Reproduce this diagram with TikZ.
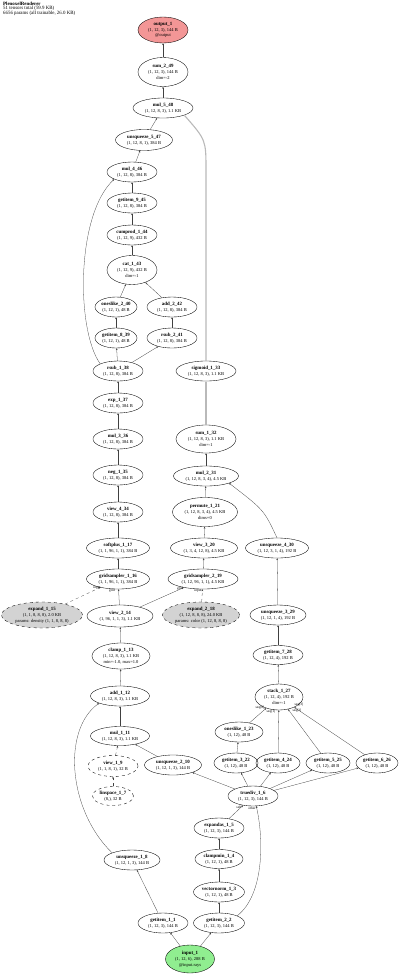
\documentclass[tikz,border=0pt]{standalone}
\usepackage{fontspec}
\setmainfont{Liberation Serif}
\usetikzlibrary{shapes.geometric,arrows.meta}
\definecolor{outred}{HTML}{F39696}
\definecolor{ingreen}{HTML}{90EE90}
\definecolor{pargray}{HTML}{D3D3D3}
\newcommand{\op}[2]{{\fontsize{4.9}{5.8}\selectfont\bfseries #1}\\#2}

\begin{document}
\begin{tikzpicture}[x=1pt,y=-1pt,
	opn/.style={ellipse,draw,line width=0.35pt,inner sep=0pt,align=center,
		font=\fontsize{4.5}{5.8}\selectfont,minimum height=20pt},
	dashn/.style={opn,dashed},
	parn/.style={opn,dashed,fill=pargray},
	ed/.style={-{Stealth[length=2pt,width=1.7pt]},line width=0.28pt,draw=black!75},
	ded/.style={ed,dashed},
	bed/.style={ed,draw=gray!55,line width=1.1pt},
	lab/.style={font=\fontsize{3.5}{4}\selectfont,inner sep=0pt}]
	\useasboundingbox (0,0) rectangle (400,975);
	\node[anchor=north west,align=left,inner sep=0pt,font=\fontsize{4.9}{4.3}\selectfont] (title) at (3,1.5)
		{\textbf{PlenoxelRenderer}\\51 tensors total (59.9 KB)\\6656 params (all trainable, 26.0 KB)};
	% top chain
	\node[opn,fill=outred,minimum width=50pt,minimum height=26pt] (output1) at (163,30) {\op{output\_1}{(1, 12, 3), 144 B\\@output}};
	\node[opn,minimum width=50pt,minimum height=29pt] (sum249) at (163,72) {\op{sum\_2\_49}{(1, 12, 3), 144 B\\dim=-2}};
	\node[opn,minimum width=60pt] (mul548) at (163,108) {\op{mul\_5\_48}{(1, 12, 8, 3), 1.1 KB}};
	\node[opn,minimum width=57pt,minimum height=21pt] (unsq547) at (144,140) {\op{unsqueeze\_5\_47}{(1, 12, 8, 1), 384 B}};
	\node[opn,minimum width=50pt] (mul446) at (132,172) {\op{mul\_4\_46}{(1, 12, 8), 384 B}};
	\node[opn,minimum width=50pt] (get945) at (132,203) {\op{getitem\_9\_45}{(1, 12, 8), 384 B}};
	\node[opn,minimum width=50pt] (cump144) at (132,235) {\op{cumprod\_1\_44}{(1, 12, 9), 432 B}};
	\node[opn,minimum width=50pt,minimum height=29pt] (cat143) at (132,270) {\op{cat\_1\_43}{(1, 12, 9), 432 B\\dim=-1}};
	\node[opn,minimum width=42pt] (ones240) at (116,307) {\op{oneslike\_2\_40}{(1, 12, 1), 48 B}};
	\node[opn,minimum width=50pt] (add242) at (172,307) {\op{add\_2\_42}{(1, 12, 8), 384 B}};
	\node[opn,minimum width=42pt] (get839) at (116,338) {\op{getitem\_8\_39}{(1, 12, 1), 48 B}};
	\node[opn,minimum width=50pt] (rsub241) at (172,338) {\op{rsub\_2\_41}{(1, 12, 8), 384 B}};
	\node[opn,minimum width=50pt] (rsub138) at (118,371) {\op{rsub\_1\_38}{(1, 12, 8), 384 B}};
	\node[opn,minimum width=60pt] (sig133) at (206,371) {\op{sigmoid\_1\_33}{(1, 12, 8, 3), 1.1 KB}};
	% density branch
	\node[opn,minimum width=50pt] (exp137) at (118,403) {\op{exp\_1\_37}{(1, 12, 8), 384 B}};
	\node[opn,minimum width=50pt] (mul336) at (118,439) {\op{mul\_3\_36}{(1, 12, 8), 384 B}};
	\node[opn,minimum width=50pt] (neg135) at (118,475) {\op{neg\_1\_35}{(1, 12, 8), 384 B}};
	\node[opn,minimum width=50pt] (view434) at (118,512) {\op{view\_4\_34}{(1, 12, 8), 384 B}};
	\node[opn,minimum width=63pt] (soft117) at (118,548) {\op{softplus\_1\_17}{(1, 1, 96, 1, 1), 384 B}};
	% color branch
	\node[opn,minimum width=60pt,minimum height=28pt] (sum132) at (206,439) {\op{sum\_1\_32}{(1, 12, 8, 3), 1.1 KB\\dim=-1}};
	\node[opn,minimum width=65pt] (mul231) at (206,476) {\op{mul\_2\_31}{(1, 12, 8, 3, 4), 4.5 KB}};
	\node[opn,minimum width=65pt,minimum height=29pt] (perm121) at (205,512) {\op{permute\_1\_21}{(1, 12, 8, 3, 4), 4.5 KB\\dims=0}};
	\node[opn,minimum width=67pt] (view320) at (204,548) {\op{view\_3\_20}{(1, 3, 4, 12, 8), 4.5 KB}};
	\node[opn,minimum width=63pt] (unsq430) at (277,548) {\op{unsqueeze\_4\_30}{(1, 12, 3, 1, 4), 192 B}};
	\node[opn,minimum width=63pt] (grid116) at (118,579) {\op{gridsampler\_1\_16}{(1, 1, 96, 1, 1), 384 B}};
	\node[opn,minimum width=70pt] (grid219) at (203,579) {\op{gridsampler\_2\_19}{(1, 12, 96, 1, 1), 4.5 KB}};
	\node[opn,minimum width=56pt] (unsq329) at (278,615) {\op{unsqueeze\_3\_29}{(1, 12, 1, 4), 192 B}};
	\node[opn,minimum width=50pt,minimum height=19pt] (get728) at (278,655) {\op{getitem\_7\_28}{(1, 12, 4), 192 B}};
	\node[parn,minimum width=81pt,minimum height=26pt] (exp115) at (42,615) {\op{expand\_1\_15}{(1, 1, 8, 8, 8), 2.0 KB\\params: density (1, 1, 8, 8, 8)}};
	\node[opn,minimum width=66pt,minimum height=22pt] (view214) at (120,616) {\op{view\_2\_14}{(1, 96, 1, 1, 3), 1.1 KB}};
	\node[parn,minimum width=77pt,minimum height=26pt] (exp218) at (201,615) {\op{expand\_2\_18}{(1, 12, 8, 8, 8), 24.0 KB\\params: color (1, 12, 8, 8, 8)}};
	% sample points
	\node[opn,minimum width=58pt,minimum height=26pt] (clamp113) at (121,656) {\op{clamp\_1\_13}{(1, 12, 8, 3), 1.1 KB\\min=-1.0, max=1.0}};
	\node[opn,minimum width=59pt] (add112) at (120,696) {\op{add\_1\_12}{(1, 12, 8, 3), 1.1 KB}};
	\node[opn,minimum width=59pt,minimum height=19pt] (mul111) at (120,736) {\op{mul\_1\_11}{(1, 12, 8, 3), 1.1 KB}};
	\node[dashn,minimum width=50pt,minimum height=21pt] (view19) at (113,766) {\op{view\_1\_9}{(1, 1, 8, 1), 32 B}};
	\node[dashn,minimum width=41pt,minimum height=19pt] (lin17) at (113,796) {\op{linspace\_1\_7}{(8,), 32 B}};
	\node[opn,minimum width=57pt] (unsq210) at (173,765) {\op{unsqueeze\_2\_10}{(1, 12, 1, 3), 144 B}};
	% directions
	\node[opn,minimum width=48pt,minimum height=26pt] (stack127) at (279,697) {\op{stack\_1\_27}{(1, 12, 4), 192 B\\dim=-1}};
	\node[opn,minimum width=48pt] (ones123) at (239,732) {\op{oneslike\_1\_23}{(1, 12), 48 B}};
	\node[opn,minimum width=44pt] (get322) at (236,763) {\op{getitem\_3\_22}{(1, 12), 48 B}};
	\node[opn,minimum width=44pt] (get424) at (278,763) {\op{getitem\_4\_24}{(1, 12), 48 B}};
	\node[opn,minimum width=44pt] (get525) at (328,763) {\op{getitem\_5\_25}{(1, 12), 48 B}};
	\node[opn,minimum width=42pt] (get626) at (377,763) {\op{getitem\_6\_26}{(1, 12), 48 B}};
	\node[opn,minimum width=50pt] (trdiv16) at (253,796) {\op{truediv\_1\_6}{(1, 12, 3), 144 B}};
	\node[opn,minimum width=50pt] (expas15) at (219,828) {\op{expandas\_1\_5}{(1, 12, 3), 144 B}};
	\node[opn,minimum width=48pt,minimum height=19pt] (clmin14) at (219,859) {\op{clampmin\_1\_4}{(1, 12, 1), 48 B}};
	\node[opn,minimum width=56pt] (unsq18) at (132,860) {\op{unsqueeze\_1\_8}{(1, 12, 1, 3), 144 B}};
	\node[opn,minimum width=51pt] (vnorm13) at (219,892) {\op{vectornorm\_1\_3}{(1, 12, 1), 48 B}};
	\node[opn,minimum width=50pt] (get11) at (163,923) {\op{getitem\_1\_1}{(1, 12, 3), 144 B}};
	\node[opn,minimum width=51pt] (get22) at (219,923) {\op{getitem\_2\_2}{(1, 12, 3), 144 B}};
	\node[opn,fill=ingreen,minimum width=49pt,minimum height=28pt] (input1) at (190,959) {\op{input\_1}{(1, 12, 6), 288 B\\@input.rays}};
	% edges
	\draw[ed] (sum249) -- (output1);
	\draw[ed] (mul548) -- (sum249);
	\draw[ed] (unsq547) -- (mul548);
	\draw[bed] (sig133.north) -- ++(0,-190) .. controls (206,140) .. (mul548.south east);
	\draw[ed] (mul446) -- (unsq547);
	\draw[ed] (get945) -- (mul446);
	\draw[ed] (rsub138.north west) .. controls (76,330) and (76,215) .. (mul446.south west);
	\draw[ed] (cump144) -- (get945);
	\draw[ed] (cat143) -- (cump144);
	\draw[ed] (ones240) -- (cat143);
	\draw[ed] (add242) -- (cat143);
	\draw[ed] (get839) -- (ones240);
	\draw[ed] (rsub241) -- (add242);
	\draw[ed] (rsub138) -- (get839);
	\draw[ed] (rsub138) -- (rsub241);
	\draw[ed] (exp137) -- (rsub138);
	\draw[ed] (mul336) -- (exp137);
	\draw[ed] (neg135) -- (mul336);
	\draw[ed] (view434) -- (neg135);
	\draw[ed] (soft117) -- (view434);
	\draw[ed] (grid116) -- (soft117);
	\draw[bed] (sum132) -- (sig133);
	\draw[ed] (mul231) -- (sum132);
	\draw[ed] (perm121) -- (mul231);
	\draw[ed] (unsq430.north) .. controls (264,510) .. (mul231.south east);
	\draw[ed] (view320) -- (perm121);
	\draw[ed] (grid219) -- (view320);
	\draw[ed] (unsq329) -- (unsq430);
	\draw[ed] (get728) -- (unsq329);
	\draw[ed] (stack127) -- (get728);
	\draw[ded] (exp115) -- (grid116);
	\draw[ed] (view214) -- (grid116);
	\draw[ed] (view214) -- (grid219);
	\draw[ded] (exp218) -- (grid219);
	\draw[ed] (clamp113) -- (view214);
	\draw[ed] (add112) -- (clamp113);
	\draw[ed] (mul111) -- (add112);
	\draw[ed] (unsq18.north west) .. controls (68,810) and (62,730) .. (add112.south west);
	\draw[ded] (view19) -- (mul111);
	\draw[ded] (lin17) -- (view19);
	\draw[ed] (unsq210) -- (mul111);
	\draw[ed] (trdiv16) -- (unsq210);
	\draw[ed] (trdiv16) -- (get322);
	\draw[ed] (trdiv16) -- (get424);
	\draw[ed] (trdiv16) -- (get525);
	\draw[ed] (trdiv16) -- (get626);
	\draw[ed] (get322) -- (ones123);
	\draw[ed] (ones123) -- (stack127);
	\draw[ed] (get424) -- (stack127);
	\draw[ed] (get525) -- (stack127);
	\draw[ed] (get626) -- (stack127);
	\draw[ed] (expas15) -- (trdiv16);
	\draw[ed] (get22.north east) .. controls (264,895) and (264,840) .. (trdiv16.-72);
	\draw[ed] (clmin14) -- (expas15);
	\draw[ed] (vnorm13) -- (clmin14);
	\draw[ed] (get22) -- (vnorm13);
	\draw[ed] (get11) -- (unsq18);
	\draw[ed] (input1) -- (get11);
	\draw[ed] (input1) -- (get22);
	% edge labels
	\node[lab] (l1) at (97,588) {input};
	\node[lab] (l2) at (112,591) {grid};
	\node[lab] (l3) at (180,589) {grid};
	\node[lab] (l4) at (198,591) {input};
	\node[lab] (l5) at (260,708) {seq[0]};
	\node[lab] (l6) at (271,712) {seq[1]};
	\node[lab] (l7) at (297,711) {seq[2]};
	\node[lab] (l8) at (299,705) {seq[3]};
	\node[lab] (l9) at (239,807) {self};
	\node[lab] (l10) at (252,808) {other};
\end{tikzpicture}
\end{document}
